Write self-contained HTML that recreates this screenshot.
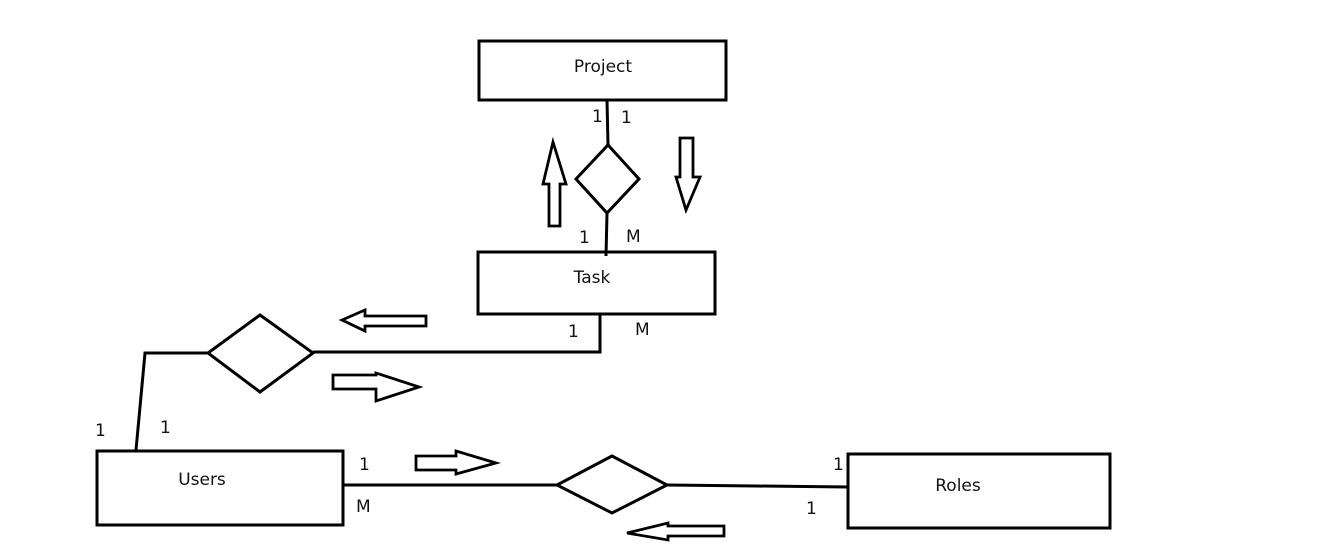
<!DOCTYPE html>
<html><head><meta charset="utf-8"><style>
html,body{margin:0;padding:0;background:#fff;width:1339px;height:550px;overflow:hidden}
text{font-family:"DejaVu Sans","Liberation Sans",sans-serif;font-size:17px;fill:#111}
</style></head><body>
<svg width="1339" height="550" viewBox="0 0 1339 550" xmlns="http://www.w3.org/2000/svg">
<g fill="none" stroke="#000" stroke-width="3">
<rect x="479" y="41" width="247" height="59"/>
<rect x="478" y="252" width="237" height="62"/>
<rect x="97" y="451" width="246" height="74"/>
<rect x="848" y="454" width="262" height="74"/>
<polyline points="607,100 608,145"/>
<polygon points="608,145 639,179 607,213 576,179"/>
<polyline points="607,213 606,256"/>
<polyline points="600,314 600,352 313,352"/>
<polygon points="260,315 313,353 260,392 208,353"/>
<polyline points="208,353 145,353 136,450"/>
<polyline points="343,485 557,485"/>
<polygon points="612,456 667,485 612,513 557,485"/>
<polyline points="667,485 757,486 848,487"/>
</g>
<g fill="none" stroke="#000" stroke-width="2.8" stroke-linejoin="miter">
<polygon points="549,226 560,226 560,184 566,184 553,142 543,184 549,184"/>
<polygon points="680,138 693,138 693,177 700,177 686,210 676,177 680,177"/>
<polygon points="426,316 426,326 365,326 365,331 342,320 365,310 365,316"/>
<polygon points="333,375 333,389 376,389 376,401 419,387 376,373 376,375"/>
<polygon points="416,456 416,470 456,470 456,474 496,463 456,451 456,456"/>
<polygon points="724,526 724,536 668,536 668,540 627,533 668,523 668,526"/>
</g>
<text x="603" y="72" text-anchor="middle">Project</text>
<text x="592" y="283" text-anchor="middle">Task</text>
<text x="202" y="485" text-anchor="middle">Users</text>
<text x="958" y="491" text-anchor="middle">Roles</text>
<text x="592" y="122">1</text>
<text x="621" y="123">1</text>
<text x="579" y="243">1</text>
<text x="626" y="242">M</text>
<text x="568" y="337">1</text>
<text x="635" y="335">M</text>
<text x="95" y="436">1</text>
<text x="160" y="433">1</text>
<text x="359" y="470">1</text>
<text x="356" y="512">M</text>
<text x="833" y="470">1</text>
<text x="806" y="514">1</text>
</svg>
</body></html>
